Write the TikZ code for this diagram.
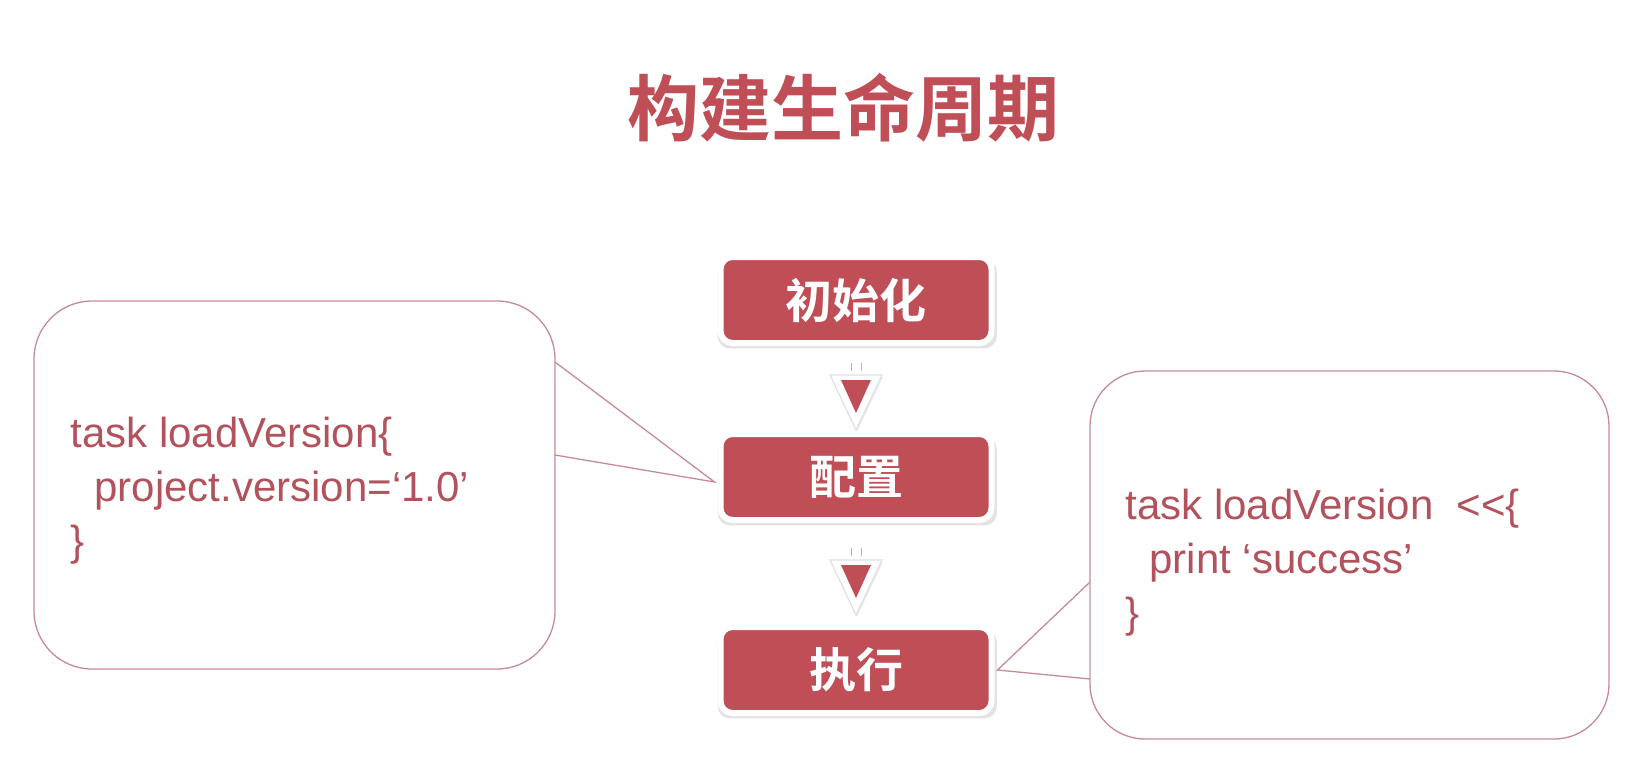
\documentclass[tikz,border=0pt]{standalone}
\usepackage{fontspec}
\setmainfont{Liberation Sans}
\newfontfamily\cjk{Noto Sans CJK SC}[BoldFont={Noto Sans CJK SC Bold}]
\usepackage{tikz}
\usetikzlibrary{positioning}
\usetikzlibrary{calc}
\usetikzlibrary{shadows}
\definecolor{boxred}{RGB}{191,78,87}
\definecolor{codered}{RGB}{178,82,92}
\definecolor{calloutline}{RGB}{198,140,150}
% little down arrow between two phases
\newcommand{\phasearrow}[2]{%
	\coordinate (m) at ($(#1.south)!0.5!(#2.north)$);
	\draw[arrowstem] ($(m)+(-5,-26)$) -- ($(m)+(-5,-18)$);
	\draw[arrowstem] ($(m)+(5,-26)$) -- ($(m)+(5,-18)$);
	\filldraw[arrowrim] ($(m)+(-26,-13.5)$) -- ($(m)+(26,-13.5)$) -- ($(m)+(0,41.5)$) -- cycle;
	\fill[boxred] ($(m)+(-15,-8.5)$) -- ($(m)+(15,-8.5)$) -- ($(m)+(0,24.5)$) -- cycle;
}

\begin{document}
\begin{tikzpicture}[x=0.5pt,y=-0.5pt,node distance=88.5pt,on grid,
		phase/.style={rectangle,rounded corners=6pt,fill=boxred,draw=white,line width=3pt,
			minimum width=135.5pt,minimum height=43pt,inner sep=0pt,text=white,
			font=\cjk\bfseries\fontsize{23.5pt}{28pt}\selectfont,
			drop shadow={opacity=0.22,shadow xshift=0.6pt,shadow yshift=-2pt,shadow scale=1.03}},
		title/.style={text=boxred,inner sep=0pt,font=\cjk\bfseries\fontsize{36pt}{40pt}\selectfont},
		code/.style={anchor=base west,inner sep=0pt,text=codered,align=left,
			font=\fontsize{21pt}{27pt}\selectfont},
		callout/.style={draw=calloutline,line width=0.65pt},
		arrowstem/.style={draw=black!30,line width=0.5pt},
		arrowrim/.style={fill=white,draw=black!12,line width=0.6pt,
			drop shadow={opacity=0.15,shadow xshift=0.5pt,shadow yshift=-1pt}}]
		\useasboundingbox (0,0) rectangle (1638,772);
		\fill[white] (0,0) rectangle (1638,772);
		
		\node[title]  (heading) at (843,108)            {构建生命周期};
		
		\node[phase]  (init)    at (856,300)            {初始化};
		\node[phase]  (config)  [below=of init]         {配置};
		\node[phase]  (exec)    [below=of config,yshift=-8pt] {执行};
		
		\phasearrow{init}{config}
		\phasearrow{config}{exec}
		
		% callout on the left, points at config
		\coordinate (tipL) at ([xshift=-1.5pt,yshift=-2.5pt]config.west);
		\draw[callout,rounded corners=29pt] (34,301) rectangle (555,669);
		\fill[white] (556,362) -- (tipL) -- (556,455) -- cycle;
		\draw[callout] (555,362) -- (tipL) -- (555,455);
		\node[code]   (codeL)   at (70,555) {task loadVersion\{\\\hspace*{12pt}project.version=‘1.0’\\\}};
		
		% callout on the right, points at exec
		\coordinate (tipR) at ([xshift=1.5pt]exec.east);
		\draw[callout,rounded corners=27.5pt] (1090,371) rectangle (1609,739);
		\fill[white] (1089,582) -- (tipR) -- (1089,679) -- cycle;
		\draw[callout] (1090,582) -- (tipR) -- (1090,679);
		\node[code]   (codeR)   at (1125,627) {task loadVersion\ \ <\kern0pt<\{\\\hspace*{12pt}print ‘success’\\\}};
		
\end{tikzpicture}
\end{document}
